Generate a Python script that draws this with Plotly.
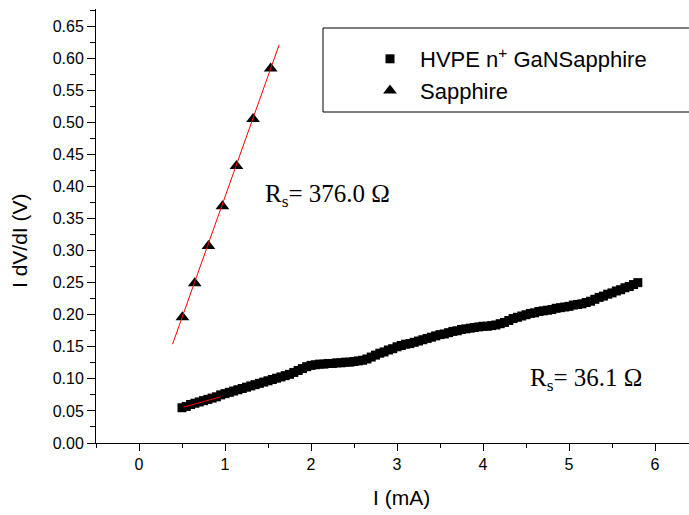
import plotly.graph_objects as go

# Square series: HVPE n+ GaN/Sapphire (~0.05 mA steps)
hvpe_x = [0.50, 0.55, 0.60, 0.65, 0.70, 0.75, 0.80, 0.85, 0.90, 0.95,
          1.00, 1.05, 1.10, 1.15, 1.20, 1.25, 1.30, 1.35, 1.40, 1.45,
          1.50, 1.55, 1.60, 1.65, 1.70, 1.75, 1.80, 1.85, 1.90, 1.95,
          2.00, 2.05, 2.10, 2.15, 2.20, 2.25, 2.30, 2.35, 2.40, 2.45,
          2.50, 2.55, 2.60, 2.65, 2.70, 2.75, 2.80, 2.85, 2.90, 2.95,
          3.00, 3.05, 3.10, 3.15, 3.20, 3.25, 3.30, 3.35, 3.40, 3.45,
          3.50, 3.55, 3.60, 3.65, 3.70, 3.75, 3.80, 3.85, 3.90, 3.95,
          4.00, 4.05, 4.10, 4.15, 4.20, 4.25, 4.30, 4.35, 4.40, 4.45,
          4.50, 4.55, 4.60, 4.65, 4.70, 4.75, 4.80, 4.85, 4.90, 4.95,
          5.00, 5.05, 5.10, 5.15, 5.20, 5.25, 5.30, 5.35, 5.40, 5.45,
          5.50, 5.55, 5.60, 5.65, 5.70, 5.75, 5.80]
hvpe_y = [0.055, 0.057, 0.060, 0.062, 0.064, 0.066, 0.068, 0.070, 0.072, 0.075,
          0.077, 0.079, 0.081, 0.083, 0.085, 0.087, 0.089, 0.091, 0.093, 0.095,
          0.097, 0.099, 0.101, 0.103, 0.105, 0.107, 0.110, 0.113, 0.116, 0.119,
          0.121, 0.122, 0.123, 0.123, 0.124, 0.124, 0.125, 0.125, 0.126, 0.126,
          0.127, 0.128, 0.129, 0.131, 0.134, 0.137, 0.140, 0.142, 0.145, 0.147,
          0.150, 0.152, 0.154, 0.155, 0.157, 0.159, 0.161, 0.163, 0.165, 0.167,
          0.169, 0.170, 0.172, 0.174, 0.175, 0.177, 0.178, 0.179, 0.180, 0.181,
          0.182, 0.182, 0.183, 0.184, 0.186, 0.188, 0.191, 0.194, 0.196, 0.198,
          0.200, 0.202, 0.203, 0.205, 0.206, 0.207, 0.208, 0.210, 0.211, 0.212,
          0.213, 0.215, 0.216, 0.217, 0.219, 0.221, 0.224, 0.227, 0.229, 0.232,
          0.234, 0.237, 0.239, 0.242, 0.244, 0.247, 0.250]

# Triangle series: Sapphire
sap_x = [0.505, 0.648, 0.807, 0.970, 1.133, 1.326, 1.531]
sap_y = [0.196, 0.249, 0.307, 0.369, 0.432, 0.505, 0.584]

# Linear fits (endpoints)
fit_sap_x = [0.39, 1.63]
fit_sap_y = [0.154, 0.621]
fit_hvpe_x = [0.52, 0.95]
fit_hvpe_y = [0.056, 0.072]

legend_names = ["HVPE n<sup>+</sup> GaNSapphire", "Sapphire"]
annot_texts = ["R<sub>s</sub>= 376.0 Ω", "R<sub>s</sub>= 36.1 Ω"]
x_title = "I (mA)"
y_title = "I dV/dI (V)"

# plot-area pixel geometry
L, R, T, B = 96, 0, 9, 72
W, H = 689, 515
pw, ph = W - L - R, H - T - B


def px(xp):
    return (xp - L) / pw


def py(yp):
    return (H - B - yp) / ph


fig = go.Figure()
fig.add_trace(go.Scatter(x=hvpe_x, y=hvpe_y, mode="markers", name=legend_names[0],
                         marker=dict(symbol="square", size=9, color="black",
                                     line=dict(width=0))))
fig.add_trace(go.Scatter(x=sap_x, y=sap_y, mode="markers", name=legend_names[1],
                         marker=dict(symbol="triangle-up", size=12, color="black",
                                     line=dict(width=0))))
fig.add_trace(go.Scatter(x=fit_sap_x, y=fit_sap_y, mode="lines", showlegend=False,
                         line=dict(color="red", width=1)))
fig.add_trace(go.Scatter(x=fit_hvpe_x, y=fit_hvpe_y, mode="lines", showlegend=False,
                         line=dict(color="red", width=1)))

fig.add_annotation(x=1.44, y=0.386, xref="x", yref="y", text=annot_texts[0],
                   showarrow=False, xanchor="left", yanchor="middle",
                   font=dict(family="Liberation Serif", size=25, color="black"))
fig.add_annotation(x=4.52, y=0.099, xref="x", yref="y", text=annot_texts[1],
                   showarrow=False, xanchor="left", yanchor="middle",
                   font=dict(family="Liberation Serif", size=25, color="black"))

# axis titles
fig.add_annotation(x=px(401), y=py(497), xref="paper", yref="paper", text=x_title,
                   showarrow=False, xanchor="center", yanchor="middle",
                   font=dict(family="Liberation Sans", size=21, color="black"))
fig.add_annotation(x=px(19), y=py(241), xref="paper", yref="paper", text=y_title,
                   showarrow=False, xanchor="center", yanchor="middle", textangle=-90,
                   font=dict(family="Liberation Sans", size=21, color="black"))

# legend frame
fig.add_shape(type="rect", xref="paper", yref="paper",
              x0=px(323), x1=px(692), y0=py(112), y1=py(28),
              line=dict(color="black", width=1), fillcolor="white", layer="below")

fig.update_layout(
    width=W, height=H,
    margin=dict(l=L, r=R, t=T, b=B),
    paper_bgcolor="white", plot_bgcolor="white",
    font=dict(family="Liberation Sans", color="black"),
    showlegend=True,
    legend=dict(x=px(360), y=py(38), xanchor="left", yanchor="top",
                bgcolor="rgba(0,0,0,0)", borderwidth=0, itemwidth=50,
                font=dict(family="Liberation Sans", size=22, color="black"),
                tracegroupgap=0),
    xaxis=dict(range=[-0.5, 6.395], showline=True, linecolor="black", linewidth=1,
               ticks="outside", ticklen=7, tickwidth=1, tickcolor="black",
               dtick=1, tick0=0, showgrid=False, zeroline=False,
               tickfont=dict(size=16, color="black"),
               minor=dict(ticks="outside", ticklen=4, dtick=0.5, tick0=0, tickcolor="black",
                          showgrid=False)),
    yaxis=dict(range=[0, 0.6766], showline=True, linecolor="black", linewidth=1,
               ticks="outside", ticklen=8, tickwidth=1, tickcolor="black",
               dtick=0.05, tick0=0, tickformat=".2f", showgrid=False, zeroline=False,
               tickfont=dict(size=16, color="black"),
               minor=dict(ticks="outside", ticklen=5, dtick=0.025, tick0=0, tickcolor="black",
                          showgrid=False)),
)

fig.write_html("out.html")
